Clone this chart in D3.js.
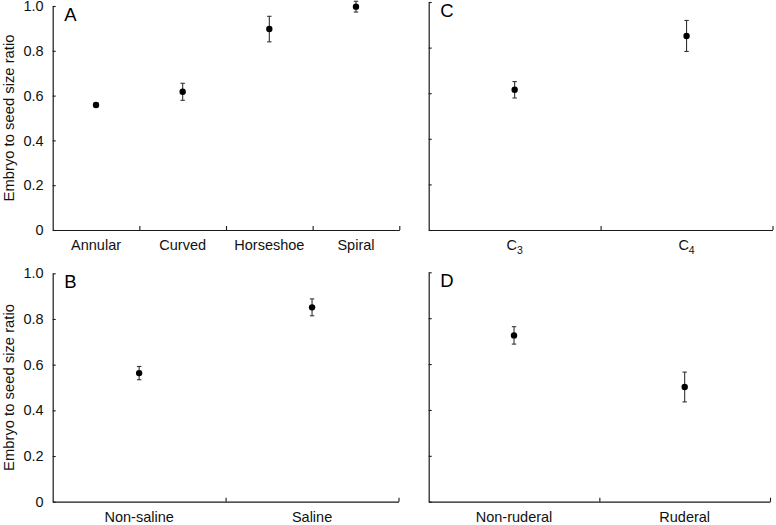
<!DOCTYPE html>
<html>
<head>
<meta charset="utf-8">
<script src="https://cdn.jsdelivr.net/npm/d3@7"></script>
<style>
  html, body { margin: 0; padding: 0; background: #fff; }
  svg { display: block; font-family: "Liberation Sans", Arial, Helvetica, sans-serif; }
</style>
</head>
<body>
<svg id="chart" width="776" height="525"></svg>
<script>
// ---- Data ----
const catsA = ["Annular", "Curved", "Horseshoe", "Spiral"];
const meansA = [0.558, 0.617, 0.897, 0.997];
const errA = [0.009, 0.038, 0.057, 0.024];

const catsB = ["Non-saline", "Saline"];
const meansB = [0.563, 0.851];
const errB = [0.029, 0.037];

const catsC = [["C", "3"], ["C", "4"]];
const meansC = [0.615, 0.851];
const errC = [0.036, 0.068];

const catsD = ["Non-ruderal", "Ruderal"];
const meansD = [0.725, 0.500];
const errD = [0.038, 0.065];

const yTickValues = [0, 0.2, 0.4, 0.6, 0.8, 1.0];
const yTickLabels = ["0", "0.2", "0.4", "0.6", "0.8", "1.0"];
const yTitle = "Embryo to seed size ratio";

// ---- Layout ----
const panels = [
  { letter: "A", cats: catsA, means: meansA, errs: errA, x0: 52.7, x1: 399.3, yTop: 6, yBot: 230, labels: true },
  { letter: "C", cats: catsC, means: meansC, errs: errC, x0: 428.7, x1: 772.5, yTop: 2, yBot: 230, labels: false },
  { letter: "B", cats: catsB, means: meansB, errs: errB, x0: 52.7, x1: 398.5, yTop: 273.3, yBot: 501.7, labels: true },
  { letter: "D", cats: catsD, means: meansD, errs: errD, x0: 428.7, x1: 770, yTop: 272.3, yBot: 501.7, labels: false }
];

const svg = d3.select("#chart");
const axisColor = "#1a1a1a";
const tickFont = 14.5;

panels.forEach(p => {
  const g = svg.append("g");
  const n = p.cats.length;
  const idx = d3.range(n);

  const y = d3.scaleLinear().domain([0, 1]).range([p.yBot, p.yTop]);
  const xb = d3.scaleBand().domain(idx).range([p.x0, p.x1]).padding(0);
  const xl = d3.scaleLinear().domain([0, n]).range([p.x0, p.x1]);

  // Y axis
  const yAxis = d3.axisLeft(y)
    .tickValues(yTickValues)
    .tickSizeInner(-3)
    .tickSizeOuter(0)
    .tickPadding(9)
    .tickFormat((d, i) => p.labels ? yTickLabels[i] : "");
  const ya = g.append("g").attr("transform", `translate(${p.x0},0)`).call(yAxis);
  ya.select(".domain").attr("stroke", axisColor).attr("stroke-width", 1.2);
  ya.selectAll(".tick line").attr("stroke", axisColor).attr("stroke-width", 1.1);
  ya.selectAll(".tick text")
    .attr("fill", "#111")
    .style("font-size", tickFont + "px")
    .style("font-family", '"Liberation Sans", Arial, sans-serif');

  // X axis: boundary ticks pointing inward
  const xAxis = d3.axisBottom(xl)
    .tickValues(d3.range(1, n + 1))
    .tickSizeInner(-4)
    .tickSizeOuter(0)
    .tickFormat("");
  const xa = g.append("g").attr("transform", `translate(0,${p.yBot})`).call(xAxis);
  xa.select(".domain").attr("stroke", axisColor).attr("stroke-width", 1.2);
  xa.selectAll(".tick line").attr("stroke", axisColor).attr("stroke-width", 1.1);

  // X category labels via band scale
  const xLab = d3.axisBottom(xb).tickSize(0).tickPadding(10).tickFormat("");
  const xla = g.append("g").attr("transform", `translate(0,${p.yBot})`).call(xLab);
  xla.select(".domain").remove();
  xla.selectAll(".tick").each(function(d) {
    const t = d3.select(this).append("text")
      .attr("y", 20)
      .attr("text-anchor", "middle")
      .attr("fill", "#111")
      .style("font-size", tickFont + "px")
      .style("font-family", '"Liberation Sans", Arial, sans-serif');
    const c = p.cats[d];
    if (Array.isArray(c)) {
      t.append("tspan").text(c[0]);
      t.append("tspan").attr("dy", 4).style("font-size", "10.5px").text(c[1]);
    } else {
      t.text(c);
    }
  });

  // Error bars
  const cx = i => xb(i) + xb.bandwidth() / 2;
  const cap = 2.2;
  const eb = g.append("g").attr("stroke", "#333").attr("stroke-width", 1.1);
  eb.selectAll("line.v").data(idx).join("line").attr("class", "v")
    .attr("x1", cx).attr("x2", cx)
    .attr("y1", i => y(p.means[i] + p.errs[i]))
    .attr("y2", i => y(p.means[i] - p.errs[i]));
  eb.selectAll("line.t").data(idx).join("line").attr("class", "t")
    .attr("x1", i => cx(i) - cap).attr("x2", i => cx(i) + cap)
    .attr("y1", i => y(p.means[i] + p.errs[i]))
    .attr("y2", i => y(p.means[i] + p.errs[i]));
  eb.selectAll("line.b").data(idx).join("line").attr("class", "b")
    .attr("x1", i => cx(i) - cap).attr("x2", i => cx(i) + cap)
    .attr("y1", i => y(p.means[i] - p.errs[i]))
    .attr("y2", i => y(p.means[i] - p.errs[i]));

  // Points
  g.selectAll("circle").data(idx).join("circle")
    .attr("cx", cx)
    .attr("cy", i => y(p.means[i]))
    .attr("r", 3.2)
    .attr("fill", "#000");

  // Panel letter
  g.append("text")
    .attr("x", p.x0 + 11.5)
    .attr("y", p.yTop + 14.8)
    .attr("fill", "#000")
    .style("font-size", "18.5px")
    .text(p.letter);

  // Y title
  if (p.labels) {
    const cy = (p.yTop + p.yBot) / 2;
    g.append("text")
      .attr("transform", `translate(13.5,${cy}) rotate(-90)`)
      .attr("text-anchor", "middle")
      .attr("fill", "#111")
      .style("font-size", "14.8px")
      .text(yTitle);
  }
});
</script>
</body>
</html>
